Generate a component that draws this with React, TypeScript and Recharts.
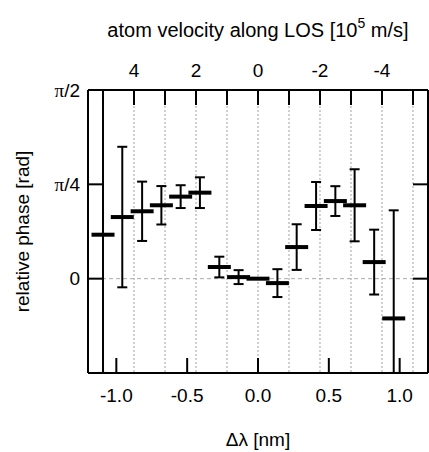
import React from "react";
import {
  ScatterChart,
  Scatter,
  XAxis,
  YAxis,
  ErrorBar,
  CartesianGrid,
  ReferenceLine,
  Label,
} from "recharts";

// wavelength offset of each measurement [nm]
const dLambda = [
  -1.094, -0.958, -0.818, -0.682, -0.546, -0.41, -0.273, -0.137, 0.0, 0.137,
  0.273, 0.41, 0.546, 0.682, 0.82, 0.958,
];
// relative phase [rad]
const phase = [
  0.366, 0.513, 0.561, 0.611, 0.683, 0.716, 0.097, 0.013, 0.0, -0.037, 0.263,
  0.605, 0.646, 0.611, 0.138, -0.331,
];
// error below / above the point [rad] (first and last bars run off the frame)
const errLow = [
  1.151, 0.585, 0.247, 0.16, 0.095, 0.128, 0.086, 0.058, 0.0, 0.116, 0.19, 0.2,
  0.124, 0.3, 0.27, 0.454,
];
const errHigh = [
  1.205, 0.585, 0.247, 0.16, 0.095, 0.128, 0.086, 0.058, 0.0, 0.116, 0.19, 0.2,
  0.124, 0.3, 0.27, 0.9,
];

const lambdaTicks = [-1.0, -0.5, 0.0, 0.5, 1.0];
const velocityTicks = [5, 4, 3, 2, 1, 0, -1, -2, -3, -4, -5];
const velocityLabels = [4, 2, 0, -2, -4];
const phaseTicks = [0, Math.PI / 4, Math.PI / 2];
const phaseTickLabels = ["0", "π/4", "π/2"];

const NM_TO_VELOCITY = 4.57; // 10^5 m/s per nm (H-alpha)
const LAMBDA_RANGE = 1.2;
const PHASE_DOMAIN = [-Math.PI / 4, Math.PI / 2];

const FONT = "'Liberation Sans', Arial, Helvetica, sans-serif";
const FS = 19;

const data = dLambda.map((x, i) => ({
  x,
  phase: phase[i],
  err: [errLow[i], errHigh[i]],
}));

// top axis shares the wavelength scale; ticks sit at the wavelengths of round velocities
const topTicks = velocityTicks.map((v) => -v / NM_TO_VELOCITY);

const axisStroke = { stroke: "#000", strokeWidth: 2 };

const PhaseTick = (props: any) => {
  const { x, y, payload } = props;
  const idx = phaseTicks.findIndex((t) => Math.abs(t - payload.value) < 1e-6);
  const label = idx >= 0 ? phaseTickLabels[idx] : "";
  return (
    <text
      x={x}
      y={y}
      textAnchor="end"
      dominantBaseline="central"
      fontSize={FS}
      fontFamily={FONT}
      fill="#000"
    >
      {label.startsWith("π") ? (
        <>
          <tspan fontFamily="'Liberation Serif', serif">π</tspan>
          <tspan>{label.slice(1)}</tspan>
        </>
      ) : (
        label
      )}
    </text>
  );
};

const Bar = (props: any) => {
  const { cx, cy } = props;
  return <rect x={cx - 11.5} y={cy - 2} width={23} height={4} fill="#000" />;
};

const Nothing = () => <g />;

const renderTitle = (props: any) => {
  const vb = props.viewBox;
  return (
    <text
      x={vb.x + vb.width / 2}
      y={37}
      textAnchor="middle"
      fontSize={20}
      fontFamily={FONT}
      fill="#000"
    >
      atom velocity along LOS [10
      <tspan fontSize={14} dy={-9}>
        5
      </tspan>
      <tspan dy={9}> m/s]</tspan>
    </text>
  );
};

const renderYTitle = (props: any) => {
  const vb = props.viewBox;
  const cx = 22;
  const cy = vb.y + vb.height / 2;
  return (
    <text
      x={cx}
      y={cy}
      transform={`rotate(-90 ${cx} ${cy})`}
      textAnchor="middle"
      dominantBaseline="central"
      fontSize={FS}
      fontFamily={FONT}
      fill="#000"
    >
      relative phase [rad]
    </text>
  );
};

export default function App() {
  return (
    <div style={{ position: "fixed", left: 0, top: 0, background: "#fff" }}>
      <ScatterChart
        width={429}
        height={452}
        margin={{ top: 0, right: 0, bottom: 0, left: 0 }}
      >
        <CartesianGrid
          xAxisId="top"
          yAxisId="right"
          horizontal={false}
          stroke="#a0a0a0"
          strokeDasharray="2 2"
        />
        <XAxis
          xAxisId="bottom"
          dataKey="x"
          type="number"
          orientation="bottom"
          domain={[-LAMBDA_RANGE, LAMBDA_RANGE]}
          allowDataOverflow
          ticks={lambdaTicks}
          interval={0}
          height={79}
          tickSize={-15}
          tickMargin={31}
          tickLine={axisStroke}
          axisLine={axisStroke}
          tick={{ fill: "#000", fontSize: FS, fontFamily: FONT }}
          tickFormatter={(v: number) => v.toFixed(1)}
        >
          <Label
            value="Δλ [nm]"
            position="insideBottom"
            offset={6}
            fill="#000"
            fontSize={FS}
            fontFamily={FONT}
          />
        </XAxis>
        <XAxis
          xAxisId="top"
          dataKey="x"
          type="number"
          orientation="top"
          domain={[-LAMBDA_RANGE, LAMBDA_RANGE]}
          allowDataOverflow
          ticks={topTicks}
          interval={0}
          height={90}
          tickSize={-15}
          tickMargin={28}
          tickLine={axisStroke}
          axisLine={axisStroke}
          tick={{ fill: "#000", fontSize: FS, fontFamily: FONT }}
          tickFormatter={(l: number) => {
            const v = Math.round(-l * NM_TO_VELOCITY);
            return velocityLabels.includes(v) ? String(v) : "";
          }}
        >
          <Label content={renderTitle} />
        </XAxis>
        <YAxis
          yAxisId="left"
          dataKey="phase"
          type="number"
          domain={PHASE_DOMAIN}
          allowDataOverflow
          ticks={phaseTicks}
          interval={0}
          width={88}
          tickSize={-15}
          tickMargin={23}
          tickLine={axisStroke}
          axisLine={axisStroke}
          tick={<PhaseTick />}
        >
          <Label content={renderYTitle} />
        </YAxis>
        <YAxis
          yAxisId="right"
          dataKey="phase"
          orientation="right"
          type="number"
          domain={PHASE_DOMAIN}
          allowDataOverflow
          ticks={phaseTicks}
          interval={0}
          width={1}
          tickSize={-15}
          tickLine={axisStroke}
          axisLine={axisStroke}
          tickFormatter={() => ""}
        />
        <ReferenceLine
          xAxisId="bottom"
          yAxisId="left"
          y={0}
          stroke="#aaa"
          strokeWidth={1}
          strokeDasharray="4 3"
        />
        {/* carrier for the top and right frame axes, draws nothing */}
        <Scatter
          xAxisId="top"
          yAxisId="right"
          data={data}
          dataKey="phase"
          shape={<Nothing />}
          isAnimationActive={false}
        />
        <Scatter
          xAxisId="bottom"
          yAxisId="left"
          data={data}
          dataKey="phase"
          shape={<Bar />}
          isAnimationActive={false}
        >
          <ErrorBar
            dataKey="err"
            direction="y"
            width={5}
            stroke="#000"
            strokeWidth={2}
          />
        </Scatter>
      </ScatterChart>
    </div>
  );
}
